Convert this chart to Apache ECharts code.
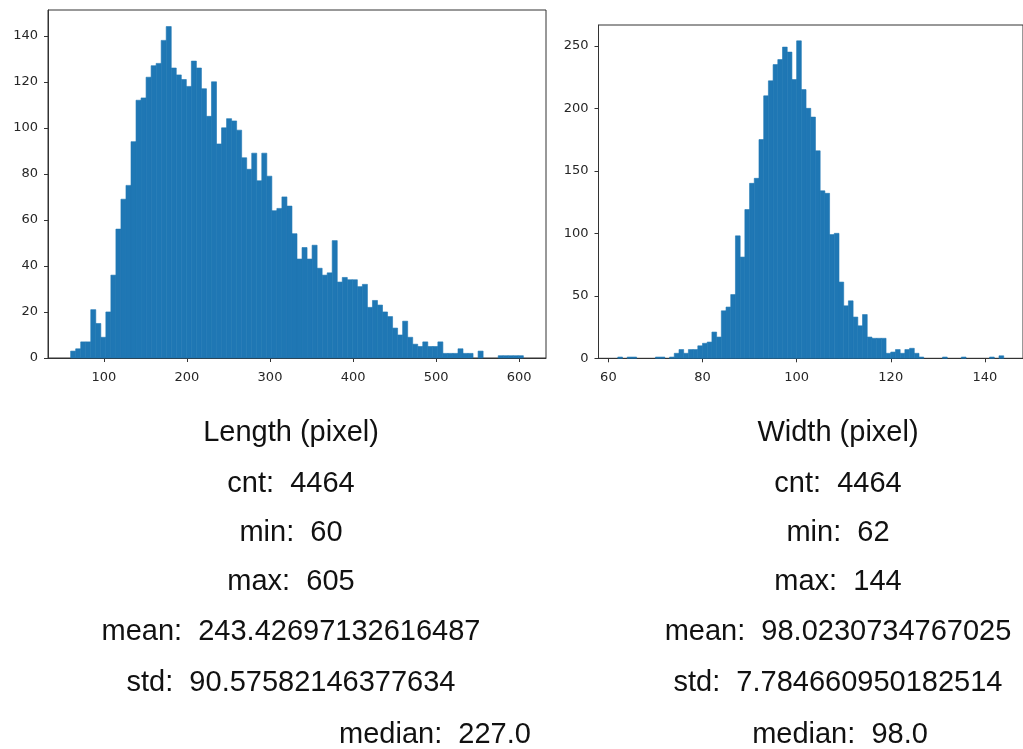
<!DOCTYPE html>
<html>
<head>
<meta charset="utf-8">
<title>Length / Width histograms</title>
<script src="https://cdn.jsdelivr.net/npm/echarts@6/dist/echarts.min.js"></script>
<style>
  html, body { margin: 0; padding: 0; background: #fff; }
  #chart { width: 1023px; height: 749px; }
</style>
</head>
<body>
<div id="chart"></div>
<script>
// histogram counts (90 bins for length, 82 for width)
var lengthRange = [60, 605]
var lengthCounts = [
  3, 4, 7, 7, 21, 15, 9, 20, 36, 56,
  69, 75, 94, 112, 113, 122, 127, 128, 138, 144,
  126, 123, 121, 118, 129, 126, 117, 105, 120, 93,
  100, 104, 103, 99, 87, 82, 89, 77, 89, 79,
  64, 65, 70, 66,
  54, 43, 48, 43, 49, 39, 36, 37, 51, 33,
  35, 34, 34, 31, 32, 22, 25, 23, 20, 18,
  13, 10, 16, 9, 6, 5, 7, 5, 5, 7,
  2, 2, 2, 4, 2, 2, 0, 3, 0, 0,
  0, 1, 1, 1, 1, 1
]
var widthRange = [62, 144]
var widthCounts = [
  1, 0, 1, 1, 0, 0, 0, 0, 1, 1, 0, 1,
  4, 7, 4, 7, 7, 10, 12, 13,
  21, 17, 38, 41, 51, 98, 81, 119, 140, 144, 175, 210, 222, 235, 239, 249,
  245, 223, 254, 215, 200, 193, 166, 134, 132, 99, 100, 61, 42, 46, 33, 26,
  35, 17, 16, 16, 16, 4, 5, 7, 4, 7, 8, 4, 1,
  0, 0, 0, 0, 1, 0, 0, 0, 1, 0, 0, 0, 0, 0, 1, 0, 2
]

var lengthTicksX = [100, 200, 300, 400, 500, 600]
var lengthTicksY = [0, 20, 40, 60, 80, 100, 120, 140]
var widthTicksX = [60, 80, 100, 120, 140]
var widthTicksY = [0, 50, 100, 150, 200, 250]

var lengthStats = [
  'Length (pixel)',
  'cnt:  4464',
  'min:  60',
  'max:  605',
  'mean:  243.42697132616487',
  'std:  90.57582146377634',
  'median:  227.0'
]
var widthStats = [
  'Width (pixel)',
  'cnt:  4464',
  'min:  62',
  'max:  144',
  'mean:  98.0230734767025',
  'std:  7.784660950182514',
  'median:  98.0'
]

var barColor = '#1f77b4'
var lineColor = '#333'
var tickFont = 'DejaVu Sans'

// bins -> [left edge, right edge, count]
function toBins(range, counts) {
  var w = (range[1] - range[0]) / counts.length
  return counts.map(function (c, i) {
    return [range[0] + i * w, range[0] + (i + 1) * w, c]
  })
}

function renderBar(params, api) {
  if (!api.value(2)) return
  var top = api.coord([api.value(0), api.value(2)])
  var bottom = api.coord([api.value(1), 0])
  return {
    type: 'rect',
    shape: { x: top[0], y: top[1], width: bottom[0] - top[0], height: bottom[1] - top[1] },
    style: { fill: barColor, stroke: barColor, lineWidth: 0.6 }
  }
}

function pad(range, frac) {
  var d = (range[1] - range[0]) * frac
  return [range[0] - d, range[1] + d]
}

function valueAxis(extent, ticks, gridIndex, isX) {
  return {
    type: 'value',
    gridIndex: gridIndex,
    min: extent[0],
    max: extent[1],
    splitLine: { show: false },
    axisLine: { show: true, onZero: false, lineStyle: { color: lineColor, width: 1 } },
    axisTick: { show: true, length: 4, customValues: ticks, lineStyle: { color: lineColor } },
    axisLabel: {
      customValues: ticks,
      color: '#262626',
      fontFamily: tickFont,
      fontSize: 13,
      margin: isX ? 13 : 10
    }
  }
}

function statTexts(lines, cx, shiftLast) {
  var ys = [433, 484, 533, 582, 632, 683, 735]
  return lines.map(function (t, i) {
    return {
      type: 'text',
      x: (i === lines.length - 1) ? cx + shiftLast : cx,
      y: ys[i],
      style: {
        text: t,
        fill: '#111',
        font: '29px "Liberation Sans", Arial, sans-serif',
        textAlign: 'center',
        textVerticalAlign: 'middle'
      }
    }
  })
}

var lengthX = pad(lengthRange, 0.05)
var widthX = pad(widthRange, 0.05)
var lengthMaxY = Math.max.apply(null, lengthCounts) * 1.05
var widthMaxY = Math.max.apply(null, widthCounts) * 1.05

var chart = echarts.init(document.getElementById('chart'))
chart.setOption({
  animation: false,
  backgroundColor: '#fff',
  grid: [
    { left: 48, top: 10, width: 498, height: 348, show: true, borderColor: lineColor, borderWidth: 1 },
    { left: 598.5, top: 25, width: 432, height: 333.3, show: true, borderColor: lineColor, borderWidth: 1 }
  ],
  xAxis: [
    valueAxis(lengthX, lengthTicksX, 0, true),
    valueAxis(widthX, widthTicksX, 1, true)
  ],
  yAxis: [
    valueAxis([0, lengthMaxY], lengthTicksY, 0, false),
    valueAxis([0, widthMaxY], widthTicksY, 1, false)
  ],
  series: [
    {
      type: 'custom',
      xAxisIndex: 0,
      yAxisIndex: 0,
      renderItem: renderBar,
      encode: { x: [0, 1], y: 2 },
      data: toBins(lengthRange, lengthCounts)
    },
    {
      type: 'custom',
      xAxisIndex: 1,
      yAxisIndex: 1,
      renderItem: renderBar,
      encode: { x: [0, 1], y: 2 },
      data: toBins(widthRange, widthCounts)
    }
  ],
  graphic: statTexts(lengthStats, 291, 144).concat(statTexts(widthStats, 838, 2))
})
</script>
</body>
</html>
